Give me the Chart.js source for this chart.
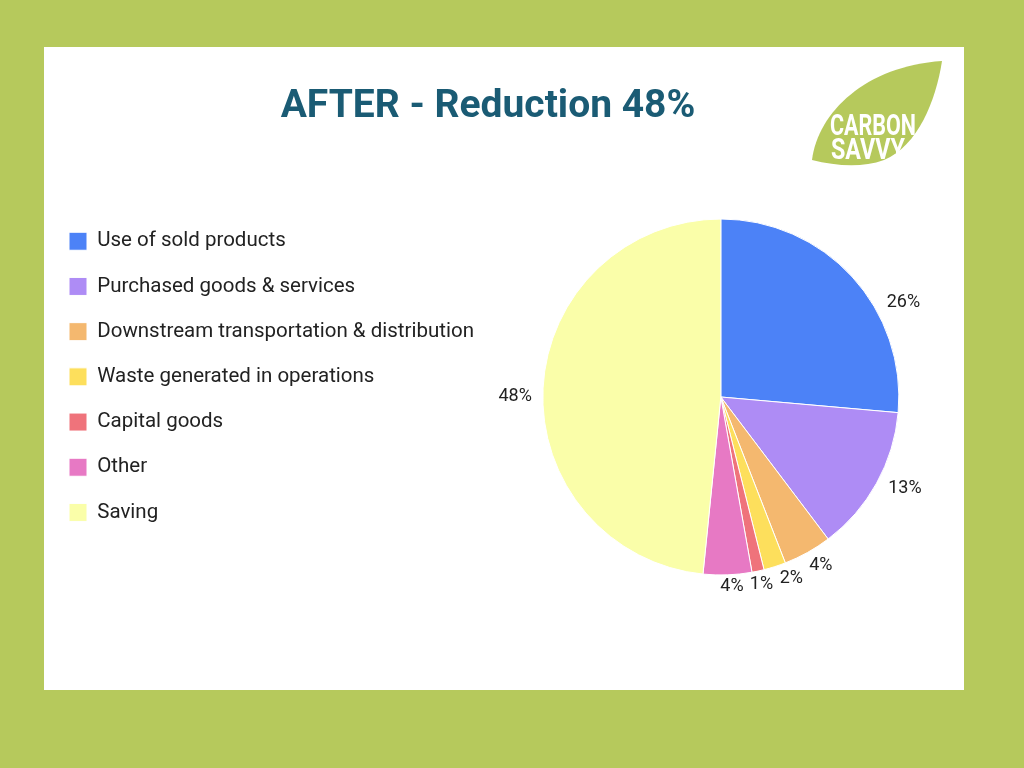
<!DOCTYPE html>
<html>
<head>
<meta charset="utf-8">
<script src="https://cdn.jsdelivr.net/npm/chart.js@4"></script>
<style>
  html, body { margin: 0; padding: 0; }
  body { width: 1024px; height: 768px; background: #b6c95c; position: relative; overflow: hidden; font-family: Roboto, sans-serif; }
  #panel { position: absolute; left: 44px; top: 47px; width: 920px; height: 643px; background: #fff; }
  #chart { position: absolute; left: 0; top: 0; }
  #logo { position: absolute; left: 766px; top: 12px; }
</style>
</head>
<body>
<div id="panel">
  <canvas id="chart" width="920" height="643"></canvas>
  <!-- logo -->
  <svg id="logo" width="140" height="112" viewBox="810 59 140 112">
    <path d="M812,160 C818,112 866,66 942,61 C936,100 918,146 884,160 C862,168 836,166 812,160 Z" fill="#b6c95c"/>
    <text x="830" y="135" fill="#fff" font-family="Roboto, sans-serif" font-size="30" font-weight="bold" textLength="86" lengthAdjust="spacingAndGlyphs">CARBON</text>
    <text x="831" y="159" fill="#fff" font-family="Roboto, sans-serif" font-size="30" font-weight="bold" textLength="74" lengthAdjust="spacingAndGlyphs">SAVVY</text>
  </svg>
</div>
<script>
// Datos del gráfico
const categories = ['Use of sold products', 'Purchased goods & services', 'Downstream transportation & distribution',
  'Waste generated in operations', 'Capital goods', 'Other', 'Saving'];
const values = [26.4, 13.3, 4.4, 2.0, 1.1, 4.4, 48.4];
const colors = ['#4c82f7', '#ae8cf5', '#f4b86f', '#fddf5c', '#ef737b', '#e779c4', '#fafea9'];

// Deja más espacio entre la leyenda y el pastel
const shiftArea = {
  id: 'shiftArea',
  afterLayout(chart) {
    chart.chartArea.left += 26;
    chart.chartArea.width -= 26;
  }
};

// Etiquetas de porcentaje fuera del pastel
const outsideLabels = {
  id: 'outsideLabels',
  afterDatasetsDraw(chart) {
    const ctx = chart.ctx;
    const meta = chart.getDatasetMeta(0);
    const data = chart.data.datasets[0].data;
    const total = data.reduce((a, b) => a + b, 0);
    const h = 18;
    ctx.save();
    ctx.font = '18px Roboto';
    ctx.fillStyle = '#222';
    ctx.textAlign = 'center';
    ctx.textBaseline = 'middle';
    const labels = meta.data.map((arc, i) => {
      const { x, y, startAngle, endAngle, outerRadius } = arc.getProps(['x', 'y', 'startAngle', 'endAngle', 'outerRadius'], true);
      // punto medio vertical del trozo
      let ymin = Infinity, ymax = -Infinity;
      const n = 200;
      for (let k = 0; k <= n; k++) {
        const a = startAngle + (endAngle - startAngle) * k / n;
        const s = Math.sin(a);
        ymin = Math.min(ymin, s); ymax = Math.max(ymax, s);
      }
      const target = (ymin + ymax) / 2;
      const mid = (startAngle + endAngle) / 2;
      let best = mid, bestErr = Infinity;
      for (let k = 0; k <= n; k++) {
        const a = startAngle + (endAngle - startAngle) * k / n;
        const err = Math.abs(Math.sin(a) - target) + Math.abs(a - mid) * 0.001;
        if (err < bestErr) { bestErr = err; best = a; }
      }
      const txt = Math.round(data[i] / total * 100) + '%';
      return { x, y, r: outerRadius, a: best, txt, w: ctx.measureText(txt).width };
    });
    const pos = (l) => {
      const cx = Math.cos(l.a), sy = Math.sin(l.a);
      const d = l.r + 6 + Math.abs(cx) * (l.w / 2 + 5) + Math.abs(sy) * h * 0.25;
      return [l.x + cx * d, l.y + sy * d];
    };
    // separar etiquetas que se tocan
    for (let it = 0; it < 400; it++) {
      let moved = false;
      for (let i = 0; i < labels.length; i++) {
        for (let j = i + 1; j < labels.length; j++) {
          const [xi, yi] = pos(labels[i]);
          const [xj, yj] = pos(labels[j]);
          if (Math.abs(xi - xj) < (labels[i].w + labels[j].w) / 2 + 6 && Math.abs(yi - yj) < h) {
            labels[i].a -= 0.003;
            labels[j].a += 0.003;
            moved = true;
          }
        }
      }
      if (!moved) break;
    }
    labels.forEach((l) => {
      const [px, py] = pos(l);
      ctx.fillText(l.txt, px, py);
    });
    ctx.restore();
  }
};

new Chart(document.getElementById('chart'), {
  type: 'pie',
  data: {
    labels: categories,
    datasets: [{
      data: values,
      backgroundColor: colors,
      borderColor: '#ffffff',
      borderWidth: 1,
      radius: 178,
    }],
  },
  options: {
    responsive: false,
    animation: false,
    layout: { padding: { left: 0.3, right: 32.3, top: 0, bottom: 102.3 } },
    plugins: {
      title: {
        display: true,
        text: 'AFTER - Reduction 48%',
        color: '#1a5b74',
        font: { family: 'Roboto', size: 39, weight: 'bold' },
        padding: { top: 36.6, bottom: 75.9 },
      },
      legend: {
        position: 'left',
        align: 'start',
        fullSize: false,
        labels: {
          color: '#222',
          font: { family: 'Roboto', size: 20.5 },
          boxWidth: 18,
          boxHeight: 18,
          padding: 24.7,
        },
      },
      tooltip: { enabled: false },
    },
  },
  plugins: [shiftArea, outsideLabels],
});
</script>
</body>
</html>
